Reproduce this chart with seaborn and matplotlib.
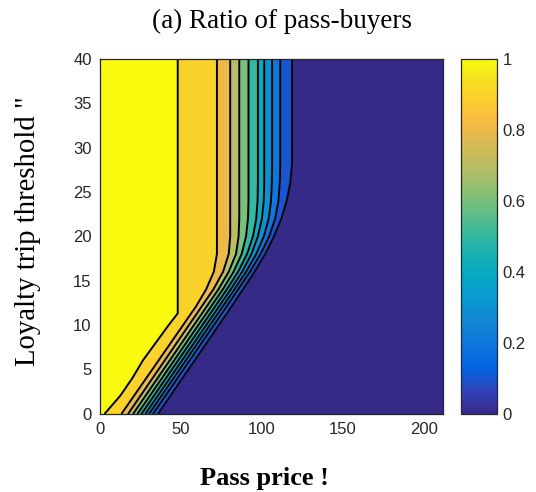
import matplotlib
matplotlib.use("Agg")
import matplotlib.pyplot as plt
import seaborn as sns
from matplotlib.colors import LinearSegmentedColormap, Normalize
from matplotlib.cm import ScalarMappable

# ---- data: contour boundary positions (pass price) read at loyalty-threshold rows ----
y_pts = [0, 2, 4, 6, 8, 10, 11.3, 12, 14, 16, 18, 20, 22, 24, 26, 28, 30, 40]
b_10 = [3, 12.5, 20, 26.5, 34.5, 42.5, 48, 48, 48, 48, 48, 48, 48, 48, 48, 48, 48, 48]
b_09 = [13.4, 21, 28.6, 36.2, 43.8, 51.4, 56.3, 59, 65.5, 70.3, 72.2, 72.2, 72.2, 72.2, 72.2, 72.2, 72.2, 72.2]
b_08 = [17.5, 25, 32.5, 40, 47.5, 55, 59.9, 62.5, 70, 76, 79.5, 80.4, 80.4, 80.4, 80.4, 80.4, 80.4, 80.4]
b_07 = [20.6, 28.1, 35.6, 43.1, 50.6, 58.1, 63, 65.6, 73.1, 79.5, 84, 85.6, 86, 86, 86, 86, 86, 86]
b_06 = [23.3, 30.8, 38.3, 45.8, 53.3, 60.8, 65.7, 68.3, 75.8, 82.5, 87.5, 90.2, 91.4, 91.7, 91.7, 91.7, 91.7, 91.7]
b_05 = [25.8, 33.3, 40.8, 48.3, 55.8, 63.3, 68.2, 70.8, 78.3, 85.3, 90.8, 94.5, 96.5, 97.3, 97.5, 97.5, 97.5, 97.5]
b_04 = [28.2, 35.7, 43.2, 50.7, 58.2, 65.7, 70.6, 73.2, 80.7, 87.8, 93.5, 97.5, 100, 101.1, 101.4, 101.4, 101.4, 101.4]
b_03 = [30.5, 38, 45.5, 53, 60.5, 68, 72.9, 75.5, 83, 90.2, 96.5, 101.2, 104.2, 105.6, 106.1, 106.2, 106.2, 106.2]
b_02 = [32.9, 40.4, 47.9, 55.4, 62.9, 70.4, 75.3, 77.9, 85.3, 92.6, 99.2, 104.5, 108.2, 110.2, 111, 111.3, 111.3, 111.3]
b_01 = [36, 43.5, 51, 58.5, 66, 73.5, 78.4, 81, 88.3, 95.5, 102, 107.5, 112, 115.3, 117.5, 118.5, 118.6, 118.6]
boundaries = [b_10, b_09, b_08, b_07, b_06, b_05, b_04, b_03, b_02, b_01]
band_values = [1.0, 0.9, 0.8, 0.7, 0.6, 0.5, 0.4, 0.3, 0.2, 0.1, 0.0]

x_ticks = [0, 50, 100, 150, 200]
y_ticks = [0, 5, 10, 15, 20, 25, 30, 35, 40]
cb_ticks = [0, 0.2, 0.4, 0.6, 0.8, 1]
cb_labels = ["0", "0.2", "0.4", "0.6", "0.8", "1"]
x_max = 212
y_max = 40

# ---- parula-like colormap ----
parula_pts = [
    (0.2081, 0.1663, 0.5292), (0.1959, 0.2645, 0.7279), (0.0117, 0.3875, 0.8820),
    (0.0498, 0.4586, 0.8641), (0.0793, 0.5200, 0.8312), (0.0343, 0.5966, 0.8199),
    (0.0228, 0.6535, 0.7768), (0.0843, 0.6928, 0.7062), (0.2178, 0.7250, 0.6193),
    (0.3953, 0.7459, 0.5244), (0.5709, 0.7485, 0.4494), (0.7184, 0.7411, 0.3905),
    (0.8507, 0.7299, 0.3360), (0.9739, 0.7314, 0.2666), (0.9880, 0.8066, 0.1794),
    (0.9589, 0.8949, 0.1132), (0.9763, 0.9831, 0.0538)]
idx = [0, 4, 8, 12, 16, 20, 24, 28, 32, 36, 40, 44, 48, 52, 56, 60, 63]
parula = LinearSegmentedColormap.from_list("parula", [(i / 63, c) for i, c in zip(idx, parula_pts)], N=256)

sns.set_theme(style="white")
plt.rcParams["font.family"] = ["Liberation Sans", "DejaVu Sans"]

W, H = 536, 492
fig = plt.figure(figsize=(W / 100, H / 100), dpi=100)
ax = fig.add_axes([100 / W, 1 - 413.5 / H, 343.3 / W, 354.5 / H])

edges = [[0] * len(y_pts)] + boundaries + [[x_max] * len(y_pts)]
for i, v in enumerate(band_values):
    ax.fill_betweenx(y_pts, edges[i], edges[i + 1], color=parula(v), lw=0, zorder=1)

for b in boundaries:
    sns.lineplot(x=b, y=y_pts, sort=False, estimator=None, color="black", lw=1.4, ax=ax, zorder=3)

ax.set_xlim(0, x_max)
ax.set_ylim(0, y_max)
ax.set_xticks(x_ticks)
ax.set_yticks(y_ticks)
ax.set_xlabel("")
ax.set_ylabel("")
tc = (0.15, 0.15, 0.15)
ax.tick_params(direction="in", top=True, right=True, length=4, width=0.8, color=tc,
               labelsize=12, labelcolor=tc, pad=6)
for s in ax.spines.values():
    s.set_visible(True)
    s.set_color(tc)
    s.set_linewidth(0.9)
    s.set_zorder(5)

cax = fig.add_axes([460.7 / W, 1 - 413.5 / H, 36 / W, 354.5 / H])
cb = fig.colorbar(ScalarMappable(norm=Normalize(0, 1), cmap=parula), cax=cax)
cb.set_ticks(cb_ticks)
cb.set_ticklabels(cb_labels)
cax.tick_params(direction="in", length=3, width=0.8, color=tc, labelsize=12, labelcolor=tc, pad=4)
cb.outline.set_edgecolor(tc)
cb.outline.set_linewidth(0.9)

serif = ["Liberation Serif", "DejaVu Serif"]
fig.text(282.5 / W, 1 - 21.7 / H, "(a) Ratio of pass-buyers", ha="center", va="center",
         fontsize=19.5, family=serif, color="black")
fig.text(264 / W, 1 - 478 / H, "Pass price !", ha="center", va="center",
         fontsize=19, fontweight="bold", family=serif, color="black")
fig.text(28 / W, 1 - 231.5 / H, "Loyalty trip threshold \"", ha="center", va="center",
         rotation=90, fontsize=20.7, family=serif, color="black")

fig.savefig("out.png", dpi=100)
